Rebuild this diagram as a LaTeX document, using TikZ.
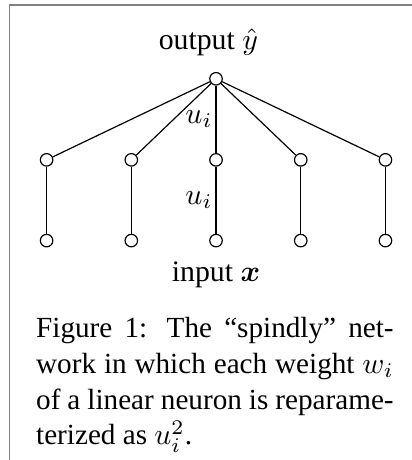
\documentclass[tikz,border=0pt]{standalone}
\usepackage{amsmath,amssymb}
\usepackage{fontspec}
\setmainfont{Liberation Serif}
\usepackage{tikz}
\usetikzlibrary{positioning}

\begin{document}
\begin{tikzpicture}[
    unit/.style={draw, circle, fill=white, minimum size=4.2pt, inner sep=0pt},
    wlabel/.style={left, inner sep=1pt}
]
    \useasboundingbox (-2.55,0.93) rectangle (2.31,-4.50);

    % Rahmen
    \draw[gray, line width=0.5pt] (2.31,0.87) -- (-2.44,0.87) -- (-2.44,-4.50);

    % Ausgabe
    \node[unit] (out) at (0,0) {};
    \node[anchor=base] (outlbl) at (-0.09,0.35) {output $\hat{y}$};

    % versteckte Schicht
    \node[unit] (h1) at (-2,-0.957) {};
    \node[unit] (h2) at (-1,-0.957) {};
    \node[unit] (h3) at (0,-0.957) {};
    \node[unit] (h4) at (1,-0.957) {};
    \node[unit] (h5) at (2,-0.957) {};

    % Eingaben
    \node[unit] (in1) at (-2,-1.91) {};
    \node[unit] (in2) at (-1,-1.91) {};
    \node[unit] (in3) at (0,-1.91) {};
    \node[unit] (in4) at (1,-1.91) {};
    \node[unit] (in5) at (2,-1.91) {};
    \node[anchor=base] (inlbl) at (0,-2.39) {input $\boldsymbol{x}$};

    % Kanten
    \draw (out) -- (h1);
    \draw (out) -- (h2);
    \draw (out) -- node[wlabel] {$u_i$} (h3);
    \draw (out) -- (h4);
    \draw (out) -- (h5);
    \draw (h1) -- (in1);
    \draw (h2) -- (in2);
    \draw (h3) -- node[wlabel] {$u_i$} (in3);
    \draw (h4) -- (in4);
    \draw (h5) -- (in5);

    % Bildunterschrift
    \node[anchor=north west, text width=4.22cm, align=justify, inner sep=0pt,
          font=\fontsize{9.8pt}{12pt}\selectfont] (caption) at (-2.13,-2.81)
        {\spaceskip=0.25em plus 0.3em minus 0.12em
         Figure 1: The ``spindly'' net-\linebreak work in which each weight $w_i$\linebreak of a linear neuron is reparame-\linebreak terized as $u_i^2$.};
\end{tikzpicture}
\end{document}
